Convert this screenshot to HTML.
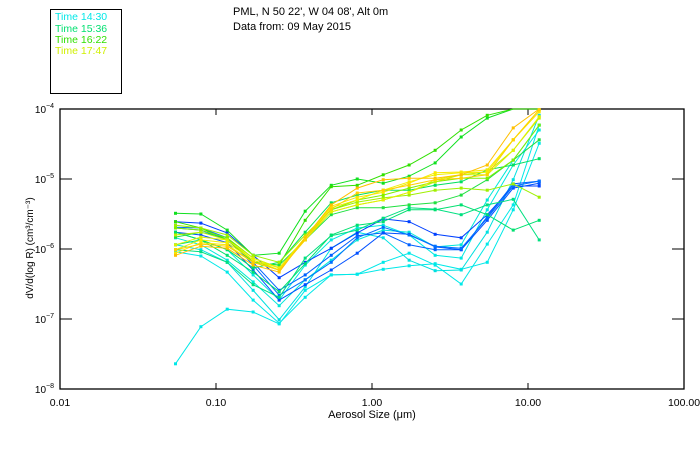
<!DOCTYPE html>
<html><head><meta charset="utf-8"><style>
body{margin:0;background:#fff;}
svg{display:block;font-family:"Liberation Sans",sans-serif;}
</style></head><body>
<svg id="chart" width="700" height="450" viewBox="0 0 700 450">
<rect x="0" y="0" width="700" height="450" fill="#fff"/>
<rect x="50.5" y="9.5" width="71" height="84" fill="none" stroke="#000"/>
<text x="55" y="20" font-size="10.5" fill="#00e8e8">Time 14:30</text>
<text x="55" y="32" font-size="10.5" fill="#00e070">Time 15:36</text>
<text x="55" y="43" font-size="10.5" fill="#30e000">Time 16:22</text>
<text x="55" y="54" font-size="10.5" fill="#d0f000">Time 17:47</text>
<text x="233" y="15" font-size="11" fill="#000">PML, N 50 22', W 04 08', Alt 0m</text>
<text x="233" y="30" font-size="11" fill="#000">Data from: 09 May 2015</text>
<g id="axes"></g>
<g id="series"></g>
<text transform="translate(33,248) rotate(-90)" text-anchor="middle" font-size="10" fill="#000">dV/d(log R) (cm³/cm⁻³)</text>
<text x="372" y="418" text-anchor="middle" font-size="11" fill="#000">Aerosol Size (μm)</text>
</svg>
<script>
const sizes=[0.055,0.080,0.118,0.173,0.254,0.373,0.548,0.804,1.18,1.73,2.54,3.73,5.48,8.04,11.8];
const xTickValues=[0.01,0.1,1,10,100];
const xTickLabels=["0.01","0.10","1.00","10.00","100.00"];
const yTickExps=[-4,-5,-6,-7,-8];
const seriesColors=["#00e8e8","#00e8e8","#00e0e0","#00e8d8","#00e8e0","#0040ff","#0060ff","#0050ff","#0070ff","#10e020","#30e000","#00e060","#00e080","#00e070","#20e040","#a0f000","#80f000","#c0f000","#e0f000","#f0f000","#f8e800","#ffc000","#ffd000"];
const c1=[-7.64,-7.11,-6.86,-6.90,-7.07,-6.59,-6.37,-6.36,-6.29,-6.24,-6.21,-6.29,-6.19,-5.44,-4.49];
const c2=[-6.04,-6.10,-6.33,-6.73,-7.06,-6.69,-6.37,-6.36,-6.19,-6.06,-6.23,-6.50,-5.93,-5.37,-4.23];
const c3=[-5.94,-6.01,-6.19,-6.59,-7.01,-6.54,-5.99,-5.76,-5.84,-6.16,-6.31,-6.30,-5.76,-5.01,-4.09];
const c4=[-5.84,-5.94,-6.16,-6.47,-6.81,-6.44,-6.16,-5.87,-5.73,-5.76,-5.97,-5.94,-5.30,-4.73,-4.23];
const c5=[-5.76,-5.87,-6.01,-6.37,-6.73,-6.23,-5.87,-5.70,-5.66,-5.80,-6.09,-6.13,-5.44,-4.80,-4.30];
const b1=[-5.61,-5.63,-5.77,-6.09,-6.41,-6.19,-5.99,-5.77,-5.57,-5.61,-5.79,-5.84,-5.51,-5.10,-5.10];
const b2=[-5.70,-5.73,-5.87,-6.19,-6.59,-6.37,-6.09,-5.81,-5.77,-5.94,-6.01,-6.01,-5.54,-5.07,-5.03];
const b3=[-5.76,-5.80,-5.91,-6.30,-6.73,-6.51,-6.30,-6.06,-5.77,-5.79,-5.97,-6.01,-5.59,-5.13,-5.06];
const b4=[-5.69,-5.70,-5.84,-6.23,-6.66,-6.44,-6.19,-5.84,-5.69,-5.80,-5.96,-5.99,-5.56,-5.10,-5.03];
const g1=[-5.49,-5.50,-5.73,-6.09,-6.06,-5.46,-5.09,-5.00,-5.06,-4.96,-4.77,-4.40,-4.13,-3.99,-3.87];
const g2=[-5.61,-5.70,-5.87,-6.19,-6.23,-5.59,-5.11,-5.09,-4.94,-4.80,-4.59,-4.30,-4.09,-3.94,-3.87];
const g3=[-5.76,-5.87,-6.01,-6.27,-6.19,-5.76,-5.34,-5.23,-5.16,-5.16,-5.09,-5.04,-4.87,-4.80,-4.71];
const g4=[-6.01,-6.04,-6.19,-6.51,-6.69,-6.13,-5.81,-5.73,-5.56,-5.41,-5.43,-5.51,-5.37,-5.29,-5.87];
const g5=[-5.94,-5.87,-6.09,-6.33,-6.61,-6.21,-5.80,-5.66,-5.61,-5.44,-5.44,-5.37,-5.51,-5.73,-5.59];
const g6=[-5.83,-5.76,-5.84,-6.19,-6.23,-5.87,-5.51,-5.41,-5.41,-5.37,-5.34,-5.23,-5.01,-4.73,-4.44];
const l1=[-5.66,-5.70,-5.80,-6.09,-6.19,-5.80,-5.44,-5.33,-5.27,-5.23,-5.16,-5.13,-5.16,-5.07,-5.26];
const l2=[-5.70,-5.73,-5.84,-6.13,-6.27,-5.84,-5.44,-5.30,-5.23,-5.13,-5.04,-4.99,-4.99,-4.73,-4.23];
const l3=[-5.80,-5.76,-5.87,-6.16,-6.30,-5.87,-5.47,-5.37,-5.30,-5.19,-5.04,-4.94,-4.90,-4.59,-4.13];
const y1=[-5.94,-5.83,-5.87,-6.13,-6.27,-5.87,-5.47,-5.37,-5.30,-5.19,-5.01,-4.94,-4.94,-4.59,-4.11];
const y2=[-6.01,-5.87,-5.91,-6.16,-6.27,-5.84,-5.41,-5.30,-5.16,-5.04,-4.94,-4.91,-4.90,-4.44,-4.01];
const y3=[-6.06,-5.91,-5.94,-6.19,-6.30,-5.83,-5.39,-5.26,-5.19,-5.06,-4.91,-4.90,-4.87,-4.44,-4.04];
const o1=[-6.09,-5.96,-5.99,-6.23,-6.33,-5.84,-5.37,-5.13,-5.01,-4.99,-4.99,-4.94,-4.80,-4.27,-3.99];
const o2=[-6.01,-5.93,-5.96,-6.19,-6.30,-5.87,-5.43,-5.20,-5.16,-5.09,-5.01,-4.99,-4.94,-4.44,-4.01];
const allSeries=[c1,c2,c3,c4,c5,b1,b2,b3,b4,g1,g2,g3,g4,g5,g6,l1,l2,l3,y1,y2,y3,o1,o2];

const NS="http://www.w3.org/2000/svg";
const L=60,R=684,T=109,B=389;
function xScale(v){return L+(Math.log10(v)+2)/4*(R-L);}
function yScale(logv){return T+(-4-logv)/4*(B-T);}
function mk(tag,attrs,parent){const e=document.createElementNS(NS,tag);for(const k in attrs)e.setAttribute(k,attrs[k]);parent.appendChild(e);return e;}
const axes=document.getElementById('axes');
const frame=mk('rect',{x:L,y:T,width:R-L,height:B-T,fill:'none',stroke:'#000','stroke-width':1.3},axes);


xTickValues.forEach((v,i)=>{
  const x=xScale(v);
  const t1=mk('line',{x1:x,x2:x,y1:B,y2:B-6,stroke:'#000'},axes);
  
  
  const t2=mk('line',{x1:x,x2:x,y1:T,y2:T+6,stroke:'#000'},axes);
  
  
  const lb=mk('text',{x:x,y:406,'text-anchor':'middle','font-size':10.5,fill:'#000'},axes);
  lb.textContent=xTickLabels[i];
  
  
});
yTickExps.forEach(e=>{
  const y=yScale(e);
  const t1=mk('line',{x1:L,x2:L+12,y1:y,y2:y,stroke:'#000'},axes);
  
  
  const t2=mk('line',{x1:R,x2:R-12,y1:y,y2:y,stroke:'#000'},axes);
  
  
  const lb=mk('text',{x:54,y:y+4,'text-anchor':'end','font-size':10,fill:'#000'},axes);
  lb.textContent='10';
  const sp=mk('tspan',{dy:-5,'font-size':7},lb);
  sp.textContent=String(e).replace('-','−');
  
  
});
const sg=document.getElementById('series');
allSeries.forEach((s,si)=>{
  const g=mk('g',{},sg);
  
  
  const pts=s.map((v,i)=>xScale(sizes[i]).toFixed(1)+','+Math.max(T,yScale(v)).toFixed(1));
  const pl=mk('polyline',{points:pts.join(' '),fill:'none',stroke:seriesColors[si],'stroke-width':1},g);
  
  
  s.forEach((v,i)=>{
    const y=yScale(v); if(y<T) return;
    const m=mk('rect',{x:xScale(sizes[i])-1.5,y:y-1.5,width:3,height:3,fill:seriesColors[si]},g);
    
    
  });
});
</script>
</body></html>
